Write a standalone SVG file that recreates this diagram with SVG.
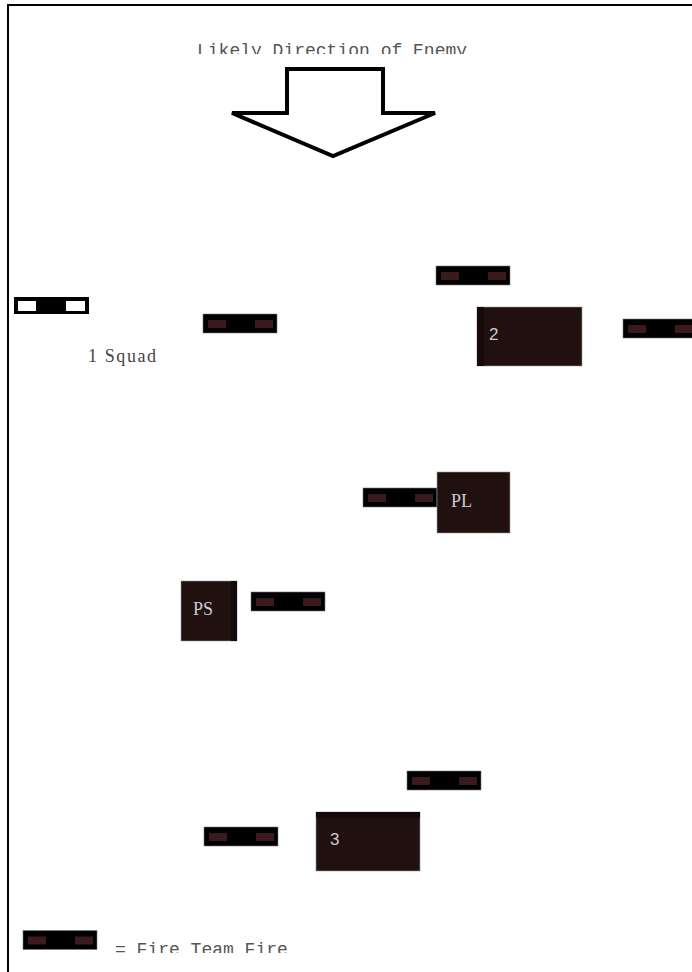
<svg xmlns="http://www.w3.org/2000/svg" width="692" height="972" viewBox="0 0 692 972">
<style>
.ft{fill:#000;stroke:#777;stroke-width:0.6}
.fi{fill:#3a1a1a}
.box{fill:#201010;stroke:#999;stroke-width:0.6}
.lbl{font-family:"Liberation Sans",Arial,sans-serif;font-size:17px;fill:#ccc}
.ser{font-family:"Liberation Serif","Times New Roman",serif;font-size:18px;fill:#ccc}
.mono{font-family:"Liberation Mono","DejaVu Sans Mono",monospace;font-size:18px;fill:#555}
</style>
<defs>
<symbol id="ftsym" viewBox="0 0 74 19" overflow="visible">
<rect class="ft" x="0" y="0" width="74" height="19"/>
<rect class="fi" x="5" y="6" width="18" height="8"/>
<rect class="fi" x="52" y="6" width="18" height="8"/>
</symbol>
<clipPath id="clipTitle"><rect x="0" y="0" width="692" height="54"/></clipPath>
<clipPath id="clipLegend"><rect x="0" y="900" width="692" height="53"/></clipPath>
</defs>
<rect x="0" y="0" width="692" height="972" fill="#fff"/>
<path d="M8,972 V5 H692" fill="none" stroke="#000" stroke-width="2"/>
<g id="title"><text class="mono" x="197" y="56" clip-path="url(#clipTitle)">Likely Direction of Enemy</text></g>
<g id="arrow"><polygon points="287,69 383,69 383,113 435,113 333,156 232,113 287,113" fill="#fff" stroke="#000" stroke-width="4"/></g>
<g id="squad1-open">
<rect x="14" y="297" width="75" height="17" fill="#000"/>
<rect x="18" y="301" width="18" height="10" fill="#fff"/>
<rect x="66" y="301" width="19" height="10" fill="#fff"/>
</g>
<g id="squad1-label"><text x="88" y="362" font-family="Liberation Serif,'Times New Roman',serif" font-size="18" letter-spacing="1.6" fill="#444">1 Squad</text></g>
<g id="ft1"><use href="#ftsym" x="203" y="314" width="74" height="19"/></g>
<g id="ft2"><use href="#ftsym" x="436" y="266" width="74" height="19"/></g>
<g id="squad2"><rect class="box" x="477" y="307" width="105" height="59"/><rect x="477" y="307" width="7" height="59" fill="#150909"/><text class="lbl" x="489" y="340">2</text></g>
<g id="ft3"><use href="#ftsym" x="623" y="319" width="74" height="19"/></g>
<g id="ft4"><use href="#ftsym" x="363" y="488" width="74" height="19"/></g>
<g id="pl"><rect class="box" x="437" y="472" width="73" height="61"/><text class="ser" x="451" y="507">PL</text></g>
<g id="ps"><rect class="box" x="181" y="581" width="56" height="60"/><rect x="231" y="581" width="6" height="60" fill="#150909"/><text class="ser" x="193" y="615">PS</text></g>
<g id="ft5"><use href="#ftsym" x="251" y="592" width="74" height="19"/></g>
<g id="ft6"><use href="#ftsym" x="407" y="771" width="74" height="19"/></g>
<g id="ft7"><use href="#ftsym" x="204" y="827" width="74" height="19"/></g>
<g id="squad3"><rect class="box" x="316" y="812" width="104" height="59"/><rect x="316" y="812" width="104" height="6" fill="#150909"/><text class="lbl" x="330" y="845">3</text></g>
<g id="legend">
<use href="#ftsym" x="23" y="930" width="74" height="20"/>
<text class="mono" x="115" y="955" clip-path="url(#clipLegend)">= Fire Team Fire</text>
</g>
</svg>
